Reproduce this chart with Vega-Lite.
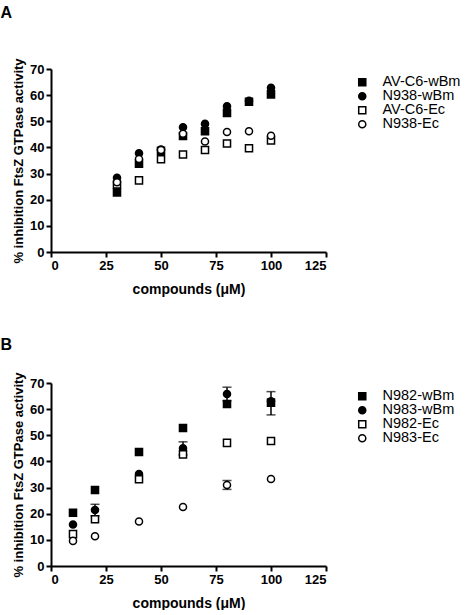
{
  "$schema": "https://vega.github.io/schema/vega-lite/v6.json",
  "padding": {"left": 0, "top": 4, "right": 0, "bottom": 0},
  "spacing": 40,
  "config": {
    "font": "Liberation Sans",
    "view": {"stroke": null},
    "axis": {
      "domainColor": "black", "domainWidth": 2, "tickColor": "black", "tickWidth": 2, "tickSize": 5,
      "grid": false, "labelFont": "Liberation Sans", "labelFontSize": 13, "labelFontWeight": "bold",
      "labelColor": "black", "labelPadding": 2, "titleFont": "Liberation Sans", "titleFontSize": 14,
      "titleFontWeight": "bold", "titleColor": "black"
    },
    "axisY": {"titleFontSize": 13, "titlePadding": 4},
    "legend": {
      "labelFont": "Liberation Sans", "labelFontSize": 14.5, "labelColor": "black", "symbolSize": 50,
      "symbolStrokeWidth": 1.5, "rowPadding": -1, "offset": 23, "padding": 6, "labelOffset": 13, "title": null
    },
    "title": {"font": "Liberation Sans", "fontSize": 16, "fontWeight": "bold", "color": "black", "anchor": "start", "frame": "bounds", "dx": -12}
  },
  "datasets": {
    "a": [
      {"series": "AV-C6-wBm", "conc": 30, "inh": 22.8}, {"series": "AV-C6-wBm", "conc": 40, "inh": 33.8},
      {"series": "AV-C6-wBm", "conc": 50, "inh": 38.7}, {"series": "AV-C6-wBm", "conc": 60, "inh": 44.4},
      {"series": "AV-C6-wBm", "conc": 70, "inh": 46.2}, {"series": "AV-C6-wBm", "conc": 80, "inh": 53.2},
      {"series": "AV-C6-wBm", "conc": 90, "inh": 57.5}, {"series": "AV-C6-wBm", "conc": 100, "inh": 60.3},
      {"series": "N938-wBm", "conc": 30, "inh": 28.4}, {"series": "N938-wBm", "conc": 40, "inh": 37.8},
      {"series": "N938-wBm", "conc": 50, "inh": 39.2}, {"series": "N938-wBm", "conc": 60, "inh": 47.7},
      {"series": "N938-wBm", "conc": 70, "inh": 49.0}, {"series": "N938-wBm", "conc": 80, "inh": 55.7},
      {"series": "N938-wBm", "conc": 90, "inh": 57.8}, {"series": "N938-wBm", "conc": 100, "inh": 62.8},
      {"series": "AV-C6-Ec", "conc": 30, "inh": 25.8}, {"series": "AV-C6-Ec", "conc": 40, "inh": 27.4},
      {"series": "AV-C6-Ec", "conc": 50, "inh": 35.5}, {"series": "AV-C6-Ec", "conc": 60, "inh": 37.3},
      {"series": "AV-C6-Ec", "conc": 70, "inh": 39.0}, {"series": "AV-C6-Ec", "conc": 80, "inh": 41.5},
      {"series": "AV-C6-Ec", "conc": 90, "inh": 39.7}, {"series": "AV-C6-Ec", "conc": 100, "inh": 42.7},
      {"series": "N938-Ec", "conc": 30, "inh": 26.7}, {"series": "N938-Ec", "conc": 40, "inh": 35.6},
      {"series": "N938-Ec", "conc": 50, "inh": 39.0}, {"series": "N938-Ec", "conc": 60, "inh": 45.2},
      {"series": "N938-Ec", "conc": 70, "inh": 42.3}, {"series": "N938-Ec", "conc": 80, "inh": 45.9},
      {"series": "N938-Ec", "conc": 90, "inh": 46.2}, {"series": "N938-Ec", "conc": 100, "inh": 44.5}
    ],
    "b": [
      {"series": "N982-wBm", "conc": 10, "inh": 20.4}, {"series": "N982-wBm", "conc": 20, "inh": 29.1},
      {"series": "N982-wBm", "conc": 40, "inh": 43.6}, {"series": "N982-wBm", "conc": 60, "inh": 52.8},
      {"series": "N982-wBm", "conc": 80, "inh": 62.0}, {"series": "N982-wBm", "conc": 100, "inh": 62.5},
      {"series": "N983-wBm", "conc": 10, "inh": 15.9}, {"series": "N983-wBm", "conc": 20, "inh": 21.4, "lo": 19.2, "hi": 23.6},
      {"series": "N983-wBm", "conc": 40, "inh": 35.2}, {"series": "N983-wBm", "conc": 60, "inh": 45.0, "lo": 42.5, "hi": 47.5},
      {"series": "N983-wBm", "conc": 80, "inh": 65.8, "lo": 63.2, "hi": 68.4}, {"series": "N983-wBm", "conc": 100, "inh": 63.0, "lo": 57.8, "hi": 66.7},
      {"series": "N982-Ec", "conc": 10, "inh": 12.2}, {"series": "N982-Ec", "conc": 20, "inh": 17.9},
      {"series": "N982-Ec", "conc": 40, "inh": 33.2}, {"series": "N982-Ec", "conc": 60, "inh": 42.7},
      {"series": "N982-Ec", "conc": 80, "inh": 47.1}, {"series": "N982-Ec", "conc": 100, "inh": 47.8},
      {"series": "N983-Ec", "conc": 10, "inh": 9.6}, {"series": "N983-Ec", "conc": 20, "inh": 11.4},
      {"series": "N983-Ec", "conc": 40, "inh": 17.0}, {"series": "N983-Ec", "conc": 60, "inh": 22.6},
      {"series": "N983-Ec", "conc": 80, "inh": 31.0, "lo": 29.3, "hi": 32.7}, {"series": "N983-Ec", "conc": 100, "inh": 33.3}
    ]
  },
  "resolve": {"scale": {"shape": "independent", "fill": "independent"}, "legend": {"shape": "independent", "fill": "independent"}},
  "vconcat": [
    {
      "title": {"text": "A", "offset": 37},
      "width": 275, "height": 183,
      "data": {"name": "a"},
      "mark": {"type": "point", "filled": false, "stroke": "black", "strokeWidth": 1.5, "size": 50, "opacity": 1},
      "encoding": {
        "x": {"field": "conc", "type": "quantitative", "scale": {"domain": [0, 125], "nice": false}, "axis": {"values": [0, 25, 50, 75, 100, 125], "title": "compounds (μM)", "titlePadding": 10}},
        "y": {"field": "inh", "type": "quantitative", "scale": {"domain": [0, 70], "nice": false}, "axis": {"values": [0, 10, 20, 30, 40, 50, 60, 70], "title": "% inhibition FtsZ GTPase activity"}},
        "shape": {"field": "series", "type": "nominal", "scale": {"domain": ["AV-C6-wBm", "N938-wBm", "AV-C6-Ec", "N938-Ec"], "range": ["square", "circle", "square", "circle"]}},
        "fill": {"field": "series", "type": "nominal", "scale": {"domain": ["AV-C6-wBm", "N938-wBm", "AV-C6-Ec", "N938-Ec"], "range": ["black", "black", "white", "white"]}}
      }
    },
    {
      "title": {"text": "B", "offset": 19},
      "width": 275, "height": 183,
      "data": {"name": "b"},
      "layer": [
        {
          "transform": [{"filter": "isValid(datum.lo)"}],
          "mark": {"type": "errorbar", "ticks": {"size": 9, "thickness": 1.5, "color": "black"}, "rule": {"strokeWidth": 1.5, "color": "black"}},
          "encoding": {
            "x": {"field": "conc", "type": "quantitative", "scale": {"domain": [0, 125], "nice": false}, "axis": {"values": [0, 25, 50, 75, 100, 125], "title": "compounds (μM)", "titlePadding": 10}},
            "y": {"field": "lo", "type": "quantitative", "scale": {"domain": [0, 70], "nice": false}, "axis": {"values": [0, 10, 20, 30, 40, 50, 60, 70], "title": "% inhibition FtsZ GTPase activity"}},
            "y2": {"field": "hi"}
          }
        },
        {
          "mark": {"type": "point", "filled": false, "stroke": "black", "strokeWidth": 1.5, "size": 50, "opacity": 1},
          "encoding": {
            "x": {"field": "conc", "type": "quantitative", "scale": {"domain": [0, 125], "nice": false}, "axis": {"values": [0, 25, 50, 75, 100, 125], "title": "compounds (μM)", "titlePadding": 10}},
            "y": {"field": "inh", "type": "quantitative", "scale": {"domain": [0, 70], "nice": false}, "axis": {"values": [0, 10, 20, 30, 40, 50, 60, 70], "title": "% inhibition FtsZ GTPase activity"}},
            "shape": {"field": "series", "type": "nominal", "scale": {"domain": ["N982-wBm", "N983-wBm", "N982-Ec", "N983-Ec"], "range": ["square", "circle", "square", "circle"]}},
            "fill": {"field": "series", "type": "nominal", "scale": {"domain": ["N982-wBm", "N983-wBm", "N982-Ec", "N983-Ec"], "range": ["black", "black", "white", "white"]}}
          }
        }
      ]
    }
  ]
}
